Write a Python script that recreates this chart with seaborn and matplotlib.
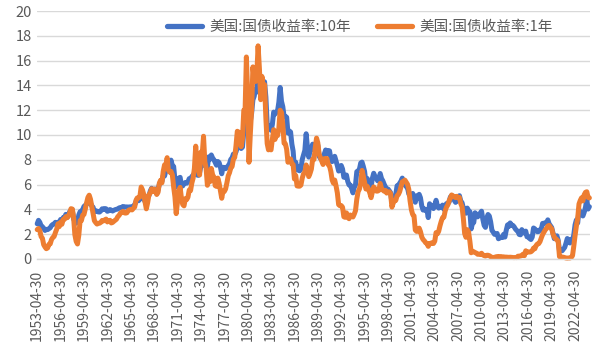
import numpy as np
import pandas as pd
import matplotlib
matplotlib.use("Agg")
import matplotlib.pyplot as plt
import seaborn as sns

# ---- data (bi-monthly readings, month-end dates) ----
start_date = "1953-04-30"
end_date = "2024-02-29"
dates = pd.date_range(start_date, end_date, freq="2ME")

series_10y_name = "美国:国债收益率:10年"
series_1y_name = "美国:国债收益率:1年"

ten_year = [
    2.83, 3.11, 2.95, 2.66, 2.59,              # 1953
    2.47, 2.29, 2.38, 2.36, 2.43, 2.51,        # 1954
    2.68, 2.78, 2.81, 2.95, 2.87, 2.96,        # 1955
    2.85, 3.18, 3.00, 3.33, 3.30, 3.59,        # 1956
    3.34, 3.56, 3.80, 3.93, 3.97, 3.21,        # 1957
    3.05, 2.88, 2.97, 3.54, 3.80, 3.86,        # 1958
    3.97, 4.23, 4.32, 4.43, 4.53, 4.69,        # 1959
    4.49, 4.28, 4.17, 3.80, 3.89, 3.84,        # 1960
    3.79, 3.78, 3.88, 4.04, 3.98, 4.06,        # 1961
    4.04, 3.84, 3.88, 3.98, 3.93, 3.86,        # 1962
    3.92, 3.97, 4.00, 4.02, 4.11, 4.14,        # 1963
    4.15, 4.23, 4.17, 4.19, 4.19, 4.18,        # 1964
    4.19, 4.20, 4.21, 4.25, 4.38, 4.62,        # 1965
    4.83, 4.69, 4.81, 5.22, 5.01, 4.84,        # 1966
    4.63, 4.55, 5.01, 5.10, 5.47, 5.70,        # 1967
    5.56, 5.59, 5.64, 5.25, 5.58, 6.03,        # 1968
    6.19, 6.26, 6.72, 6.69, 7.10, 7.65,        # 1969
    7.24, 7.48, 7.97, 7.53, 7.46, 6.39,        # 1970
    5.80, 5.91, 6.52, 6.58, 5.93, 5.89,        # 1971
    6.08, 6.17, 6.11, 6.21, 6.48, 6.41,        # 1972
    6.64, 6.76, 6.90, 7.40, 6.77, 6.74,        # 1973
    6.96, 7.51, 7.54, 8.04, 7.90, 7.43,        # 1974
    7.39, 8.23, 8.04, 8.39, 8.14, 8.00,        # 1975
    7.79, 7.56, 7.86, 7.77, 7.41, 6.87,        # 1976
    7.39, 7.37, 7.28, 7.40, 7.52, 7.69,        # 1977
    8.03, 8.15, 8.46, 8.41, 8.64, 9.01,        # 1978
    9.10, 9.18, 8.91, 9.03, 10.30, 10.39,      # 1979
    12.60, 11.47, 9.78, 11.10, 11.75, 12.84,   # 1980
    13.12, 13.68, 13.47, 14.94, 15.15, 13.72,  # 1981
    14.43, 13.87, 14.30, 13.06, 10.91, 10.54,  # 1982
    10.72, 10.38, 10.85, 11.85, 11.69, 11.83,  # 1983
    11.95, 12.65, 13.84, 12.72, 12.29, 11.50,  # 1984
    11.51, 11.43, 10.16, 10.33, 10.24, 9.26,   # 1985
    8.70, 7.30, 7.80, 7.17, 7.43, 7.11,        # 1986
    7.25, 8.02, 8.40, 8.76, 10.10, 8.99,       # 1987
    8.21, 8.72, 8.92, 9.26, 8.80, 9.11,        # 1988
    9.30, 9.18, 8.28, 8.11, 8.01, 7.84,        # 1989
    8.47, 8.79, 8.48, 8.75, 8.72, 8.08,        # 1990
    7.85, 8.04, 8.28, 7.90, 7.53, 7.09,        # 1991
    7.34, 7.54, 7.26, 6.59, 6.59, 6.77,        # 1992
    6.26, 5.97, 5.96, 5.68, 5.33, 5.77,        # 1993
    5.97, 7.04, 7.10, 7.24, 7.74, 7.81,        # 1994
    7.47, 7.06, 6.17, 6.49, 6.04, 5.71,        # 1995
    5.81, 6.51, 6.91, 6.64, 6.53, 6.30,        # 1996
    6.42, 6.89, 6.49, 6.30, 6.03, 5.81,        # 1997
    5.57, 5.64, 5.50, 5.34, 4.53, 4.65,        # 1998
    5.00, 5.18, 5.90, 5.94, 6.11, 6.28,        # 1999
    6.52, 5.99, 6.10, 5.83, 5.74, 5.24,        # 2000
    5.10, 5.14, 5.28, 4.97, 4.57, 5.09,        # 2001
    4.91, 5.21, 4.93, 4.26, 3.94, 4.03,        # 2002
    3.90, 3.96, 3.33, 4.45, 4.29, 4.27,        # 2003
    4.06, 4.35, 4.73, 4.28, 4.10, 4.23,        # 2004
    4.17, 4.34, 4.00, 4.26, 4.46, 4.47,        # 2005
    4.57, 4.99, 5.11, 4.88, 4.73, 4.56,        # 2006
    4.72, 4.69, 5.10, 4.67, 4.53, 4.10,        # 2007
    3.74, 3.68, 4.10, 3.89, 3.81, 2.42,        # 2008
    2.87, 2.93, 3.72, 3.59, 3.39, 3.59,        # 2009
    3.69, 3.85, 3.20, 2.70, 2.54, 3.29,        # 2010
    3.58, 3.46, 3.00, 2.30, 2.15, 1.98,        # 2011
    1.97, 2.05, 1.62, 1.68, 1.75, 1.72,        # 2012
    1.98, 1.76, 2.30, 2.74, 2.62, 2.90,        # 2013
    2.71, 2.71, 2.60, 2.42, 2.30, 2.21,        # 2014
    1.97, 1.94, 2.36, 2.17, 2.07, 2.24,        # 2015
    1.78, 1.81, 1.64, 1.56, 1.76, 2.49,        # 2016
    2.42, 2.30, 2.19, 2.21, 2.36, 2.40,        # 2017
    2.86, 2.87, 2.91, 2.89, 3.15, 2.83,        # 2018
    2.68, 2.53, 2.07, 1.63, 1.71, 1.86,        # 2019
    1.50, 0.66, 0.73, 0.65, 0.79, 0.93,        # 2020
    1.26, 1.64, 1.52, 1.28, 1.58, 1.47,        # 2021
    1.93, 2.75, 3.14, 2.90, 3.98, 3.62,        # 2022
    3.75, 3.46, 3.75, 4.17, 4.80, 4.02,        # 2023
    4.21,                                      # 2024
]

one_year = [
    2.36, 2.45, 2.28, 1.79, 1.66,              # 1953
    1.14, 0.96, 0.82, 0.88, 1.17, 1.21,        # 1954
    1.55, 1.72, 1.80, 2.12, 2.40, 2.83,        # 1955
    2.60, 2.96, 2.79, 3.19, 3.20, 3.41,        # 1956
    3.32, 3.43, 3.71, 4.05, 4.02, 3.33,        # 1957
    1.95, 1.41, 1.20, 1.90, 3.09, 3.09,        # 1958
    3.52, 3.58, 4.01, 4.52, 4.95, 5.14,        # 1959
    4.82, 4.24, 3.70, 3.08, 2.93, 2.81,        # 1960
    2.86, 2.88, 2.95, 3.10, 3.06, 3.15,        # 1961
    3.21, 2.98, 3.06, 3.11, 2.90, 2.94,        # 1962
    3.03, 3.11, 3.20, 3.40, 3.51, 3.68,        # 1963
    3.76, 3.83, 3.72, 3.69, 3.72, 3.90,        # 1964
    3.96, 3.98, 3.95, 4.08, 4.18, 4.72,        # 1965
    4.92, 4.92, 5.00, 5.80, 5.57, 5.20,        # 1966
    4.60, 4.04, 4.52, 5.18, 5.31, 5.66,        # 1967
    5.44, 5.64, 5.50, 5.20, 5.38, 6.12,        # 1968
    6.35, 6.14, 7.06, 7.59, 7.54, 8.17,        # 1969
    7.16, 7.00, 7.06, 6.78, 5.81, 5.00,        # 1970
    3.65, 4.61, 5.44, 5.77, 4.89, 4.38,        # 1971
    4.28, 4.86, 4.78, 4.98, 5.56, 5.51,        # 1972
    6.11, 6.51, 7.31, 9.10, 7.41, 7.29,        # 1973
    6.77, 8.62, 8.40, 9.90, 7.84, 7.31,        # 1974
    5.94, 6.36, 6.23, 7.30, 6.79, 6.60,        # 1975
    5.91, 5.85, 6.52, 6.11, 5.52, 4.89,        # 1976
    5.47, 5.44, 5.64, 6.14, 6.70, 6.96,        # 1977
    7.34, 7.45, 8.06, 8.18, 9.14, 10.30,       # 1978
    10.24, 9.84, 9.06, 9.73, 12.00, 11.98,     # 1979
    16.30, 13.30, 7.80, 10.05, 12.02, 15.50,   # 1980
    14.57, 14.32, 14.86, 17.20, 15.38, 12.85,  # 1981
    14.73, 13.62, 14.07, 11.35, 9.31, 8.80,    # 1982
    8.92, 8.80, 9.66, 10.43, 9.64, 10.11,      # 1983
    9.95, 10.56, 12.00, 11.82, 10.84, 9.33,    # 1984
    9.29, 8.85, 7.80, 7.94, 8.07, 7.67,        # 1985
    7.61, 6.45, 6.73, 5.89, 5.87, 5.87,        # 1986
    5.96, 6.52, 6.86, 6.99, 7.58, 7.17,        # 1987
    6.64, 6.90, 7.24, 8.05, 8.02, 8.99,        # 1988
    9.75, 9.36, 8.44, 8.17, 7.91, 7.62,        # 1989
    8.09, 8.04, 8.10, 7.60, 7.50, 7.05,        # 1990
    6.38, 6.11, 6.36, 5.89, 5.33, 4.38,        # 1991
    4.29, 4.30, 4.17, 3.40, 3.35, 3.71,        # 1992
    3.39, 3.24, 3.54, 3.44, 3.38, 3.61,        # 1993
    3.89, 4.82, 5.42, 5.64, 6.09, 7.14,        # 1994
    6.70, 6.17, 5.64, 5.86, 5.62, 5.31,        # 1995
    4.94, 5.41, 5.81, 5.67, 5.47, 5.47,        # 1996
    5.53, 6.09, 5.69, 5.56, 5.46, 5.53,        # 1997
    5.31, 5.38, 5.41, 5.27, 4.18, 4.50,        # 1998
    4.70, 4.72, 5.10, 5.20, 5.43, 5.84,        # 1999
    6.22, 6.26, 6.36, 6.18, 6.02, 5.60,        # 2000
    4.68, 3.97, 3.58, 3.47, 2.33, 2.22,        # 2001
    2.23, 2.48, 2.20, 1.76, 1.56, 1.45,        # 2002
    1.30, 1.24, 1.01, 1.24, 1.25, 1.31,        # 2003
    1.24, 1.43, 2.12, 2.02, 2.23, 2.67,        # 2004
    3.03, 3.32, 3.36, 3.87, 4.18, 4.35,        # 2005
    4.68, 4.90, 5.16, 5.08, 5.01, 4.94,        # 2006
    5.05, 4.93, 4.96, 4.47, 4.20, 3.26,        # 2007
    2.05, 1.74, 2.36, 2.17, 1.42, 0.49,        # 2008
    0.62, 0.57, 0.51, 0.46, 0.37, 0.37,        # 2009
    0.35, 0.45, 0.32, 0.26, 0.23, 0.29,        # 2010
    0.29, 0.25, 0.18, 0.11, 0.11, 0.12,        # 2011
    0.16, 0.18, 0.19, 0.18, 0.18, 0.16,        # 2012
    0.16, 0.12, 0.14, 0.13, 0.12, 0.13,        # 2013
    0.12, 0.11, 0.10, 0.11, 0.10, 0.21,        # 2014
    0.22, 0.23, 0.28, 0.38, 0.26, 0.65,        # 2015
    0.53, 0.56, 0.55, 0.57, 0.66, 0.87,        # 2016
    0.81, 1.07, 1.20, 1.23, 1.40, 1.70,        # 2017
    1.96, 2.15, 2.33, 2.45, 2.65, 2.70,        # 2018
    2.55, 2.43, 2.00, 1.77, 1.61, 1.55,        # 2019
    1.41, 0.18, 0.18, 0.14, 0.13, 0.10,        # 2020
    0.07, 0.06, 0.07, 0.07, 0.11, 0.26,        # 2021
    1.01, 1.89, 2.65, 3.28, 4.43, 4.72,        # 2022
    4.93, 4.68, 5.17, 5.37, 5.42, 4.96,        # 2023
    4.92,                                      # 2024
]

tick_years = list(range(1953, 2023, 3))
y_ticks = [0, 2, 4, 6, 8, 10, 12, 14, 16, 18, 20]

n = min(len(dates), len(ten_year), len(one_year))
df = pd.DataFrame({
    "date": list(dates[:n]) * 2,
    "value": list(ten_year[:n]) + list(one_year[:n]),
    "series": [series_10y_name] * n + [series_1y_name] * n,
})

# ---- style ----
sns.set_style("white")
plt.rcParams["font.family"] = ["Noto Sans CJK SC", "DejaVu Sans"]

BLUE = "#4472C4"
ORANGE = "#ED7D31"
GRID = "#D9D9D9"
TXT = "#595959"

fig = plt.figure(figsize=(6.0, 3.6), dpi=100)
ax = fig.add_axes([0.062, 0.281, 0.921, 0.688])

sns.lineplot(data=df, x="date", y="value", hue="series",
             palette={series_10y_name: BLUE, series_1y_name: ORANGE},
             linewidth=3.6, ax=ax, legend=True)
for ln in ax.lines:
    ln.set_clip_on(False)
    ln.set_solid_joinstyle("round")
    ln.set_solid_capstyle("round")

ax.set_ylim(0, 20)
ax.set_yticks(y_ticks)
ax.set_xlim(pd.Timestamp(start_date), pd.Timestamp("2024-03-20"))
tick_dates = [pd.Timestamp(f"{y}-04-30") for y in tick_years]
ax.set_xticks(tick_dates)
ax.set_xticklabels([d.strftime("%Y-%m-%d") for d in tick_dates],
                   rotation=90, fontsize=10, color=TXT)
ax.tick_params(axis="y", labelsize=10.5, labelcolor=TXT, length=0, pad=4)
ax.tick_params(axis="x", length=5, width=1, color=GRID, pad=3, direction="out")

ax.grid(axis="y", color=GRID, linewidth=1)
ax.set_axisbelow(True)
for s in ["top", "right", "left"]:
    ax.spines[s].set_visible(False)
ax.spines["bottom"].set_color(GRID)
ax.spines["bottom"].set_linewidth(1)
ax.set_xlabel("")
ax.set_ylabel("")

leg = ax.legend(loc="center", bbox_to_anchor=(0.584, 0.935), ncol=2,
                frameon=False, fontsize=10.5, handlelength=2.4,
                handletextpad=0.5, columnspacing=1.8, labelcolor=TXT)
for h in leg.get_lines():
    h.set_linewidth(3.8)

fig.savefig("out.png", dpi=100)
